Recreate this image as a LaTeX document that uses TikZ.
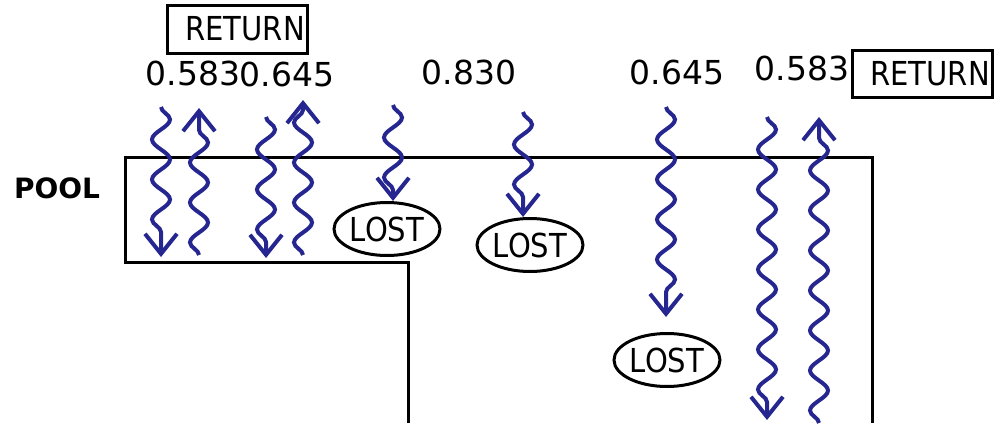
\documentclass[tikz,border=0pt]{standalone}
\usepackage{fontspec}
\setmainfont{DejaVu Sans}
\usetikzlibrary{decorations.pathmorphing,arrows.meta,shapes.geometric}
\definecolor{wavec}{RGB}{38,38,145}
\tikzset{
  num/.style={font=\fontsize{33}{36}\selectfont, inner sep=0pt},
  lbl/.style={font=\fontsize{33}{36}\selectfont\addfontfeature{FakeStretch=0.88}},
  retbox/.style={draw, line width=3pt, minimum width=140pt, minimum height=48pt, inner sep=0pt, lbl},
  lost/.style={ellipse, draw, line width=3pt, minimum width=106pt, minimum height=53pt, inner sep=0pt, lbl},
  wave/.style={wavec, line width=4pt, decorate,
    decoration={snake, amplitude=9pt, segment length=40pt, post length=8pt},
    -{Straight Barb[length=20pt,width=32pt]}},
  wall/.style={line width=3pt}
}
\begin{document}
\begin{tikzpicture}[x=1pt,y=-1pt]
\useasboundingbox (0,0) rectangle (995,423);
% pool outline
\draw[wall] (408,423) -- (408,262) -- (125,262) -- (125,157) -- (872,157) -- (872,423);
\node[font=\fontsize{28}{30}\selectfont\bfseries, inner sep=0pt] (pool) at (57,188) {POOL};
% labels
\node[retbox] (ret1) at (237,29) {\hspace{16pt}RETURN};
\node[retbox, minimum height=47pt] (ret2) at (922,73.5) {\hspace{16pt}RETURN};
\node[num] (n1) at (193,73) {0.583};
\node[num] (n2) at (287,74) {0.645};
\node[num] (n3) at (469,72) {0.830};
\node[num] (n4) at (677,72) {0.645};
\node[num] (n5) at (802,68) {0.583};
% lost
\node[lost] (l1) at (387,229) {LOST};
\node[lost] (l2) at (530,245) {LOST};
\node[lost] (l3) at (667,360) {LOST};
% wave coordinates
\coordinate (s1) at (161,107); \coordinate (e1) at (161,257);
\coordinate (s2) at (199,255); \coordinate (e2) at (199,108);
\coordinate (s3) at (266,117); \coordinate (e3) at (266,258);
\coordinate (s4) at (303,255); \coordinate (e4) at (303,100);
\coordinate (s5) at (393,105);
\coordinate (s6) at (523,112);
\coordinate (s7) at (666,107); \coordinate (e7) at (666,317);
\coordinate (s8) at (767,117); \coordinate (e8) at (767,420);
\coordinate (s9) at (819,423); \coordinate (e9) at (819,117);
% waves
\draw[wave] (s1) -- (e1);
\draw[wave] (s2) -- (e2);
\draw[wave] (s3) -- (e3);
\draw[wave] (s4) -- (e4);
\draw[wave] (s5) -- (s5 |- l1.north);
\draw[wave] (s6) -- (s6 |- l2.north);
\draw[wave] (s7) -- (e7);
\draw[wave] (s8) -- (e8);
\draw[wave] (s9) -- (e9);
\end{tikzpicture}
\end{document}
